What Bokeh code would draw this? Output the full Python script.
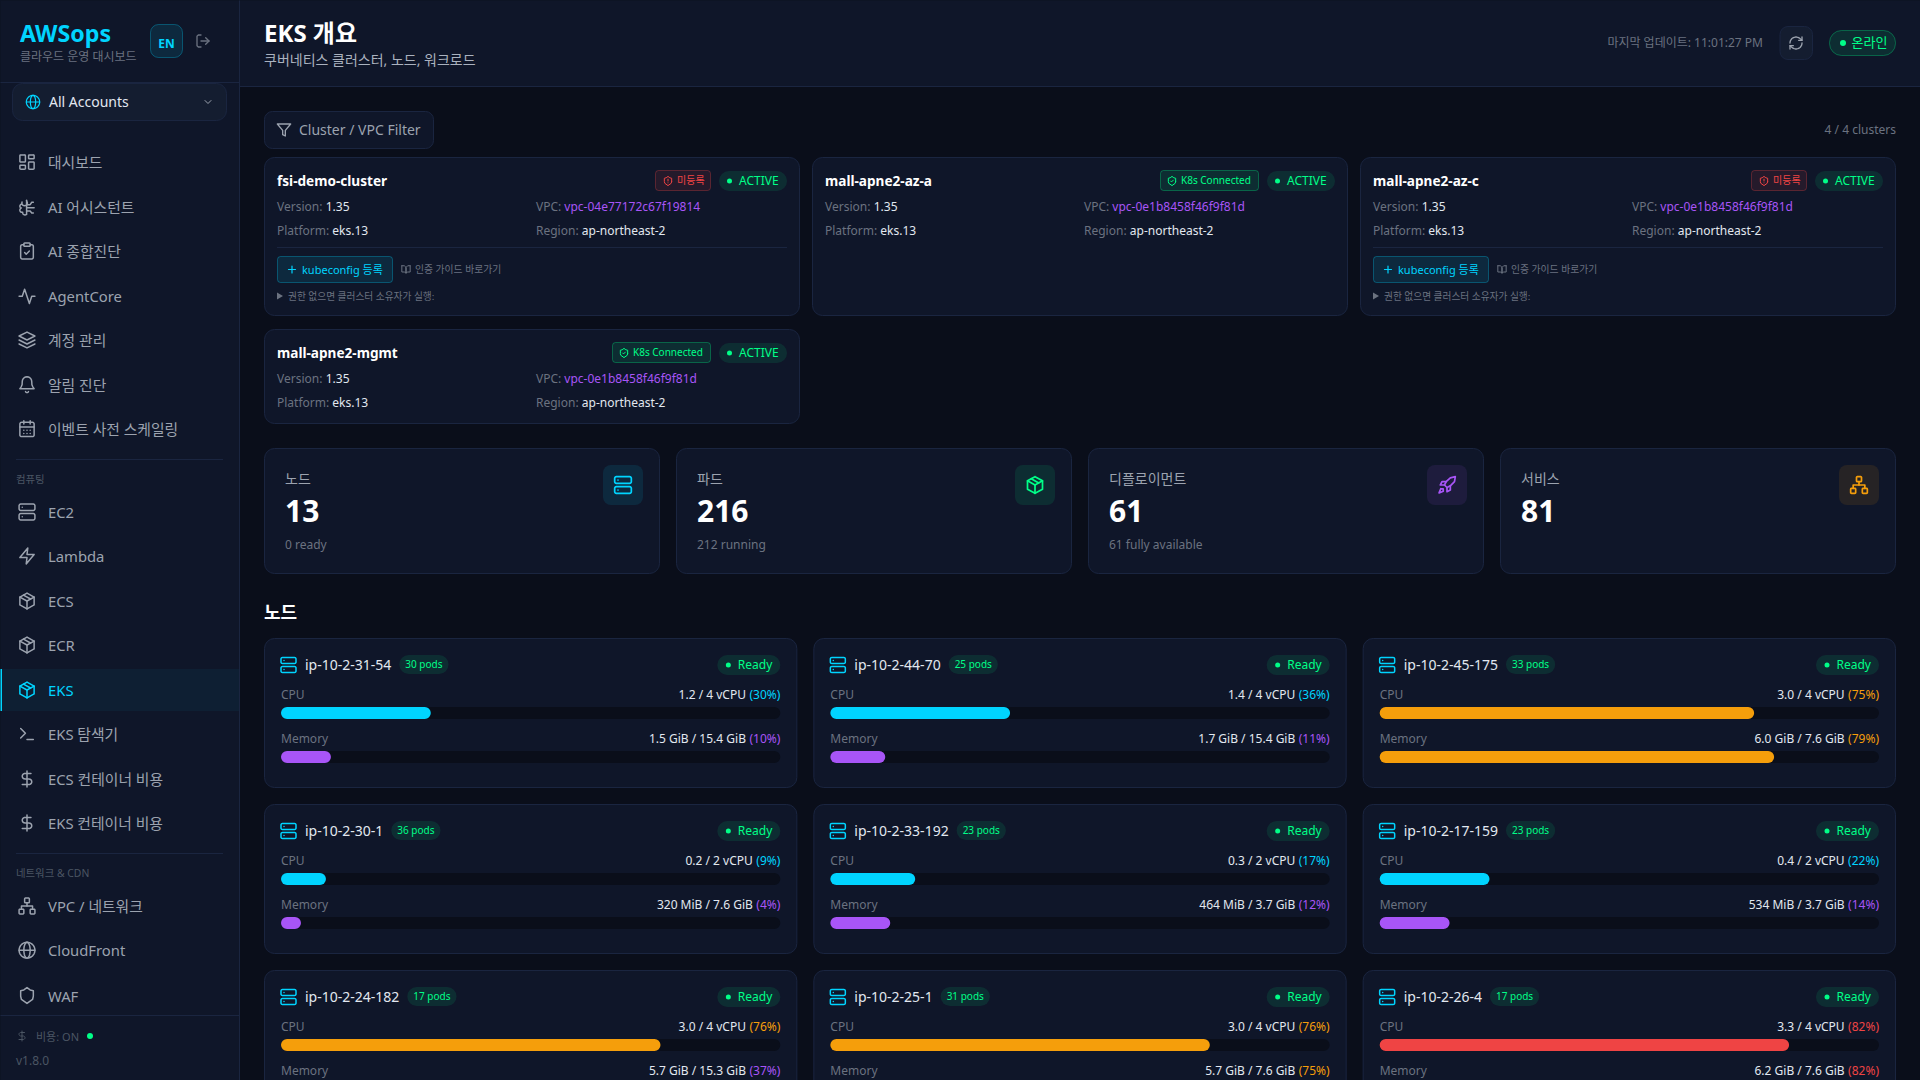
import math
from collections import defaultdict
from bokeh.core.properties import value
from bokeh.plotting import figure
from bokeh.models import Range1d, ColumnDataSource
from bokeh.embed import file_html
from bokeh.resources import INLINE

# ---------- data ----------
cluster_names = ["fsi-demo-cluster", "mall-apne2-az-a", "mall-apne2-az-c", "mall-apne2-mgmt"]
cluster_vpcs = ["vpc-04e77172c67f19814", "vpc-0e1b8458f46f9f81d", "vpc-0e1b8458f46f9f81d", "vpc-0e1b8458f46f9f81d"]
cluster_connected = [False, True, False, True]
stat_labels = ["노드", "파드", "디플로이먼트", "서비스"]
stat_values = ["13", "216", "61", "81"]
stat_subs = ["0 ready", "212 running", "61 fully available", ""]
node_names = ["ip-10-2-31-54", "ip-10-2-44-70", "ip-10-2-45-175", "ip-10-2-30-1", "ip-10-2-33-192",
              "ip-10-2-17-159", "ip-10-2-24-182", "ip-10-2-25-1", "ip-10-2-26-4"]
node_pods = [30, 25, 33, 36, 23, 23, 17, 31, 17]
cpu_text = ["1.2 / 4 vCPU", "1.4 / 4 vCPU", "3.0 / 4 vCPU", "0.2 / 2 vCPU", "0.3 / 2 vCPU",
            "0.4 / 2 vCPU", "3.0 / 4 vCPU", "3.0 / 4 vCPU", "3.3 / 4 vCPU"]
cpu_pct = [30, 36, 75, 9, 17, 22, 76, 76, 82]
mem_text = ["1.5 GiB / 15.4 GiB", "1.7 GiB / 15.4 GiB", "6.0 GiB / 7.6 GiB", "320 MiB / 7.6 GiB", "464 MiB / 3.7 GiB",
            "534 MiB / 3.7 GiB", "5.7 GiB / 15.3 GiB", "5.7 GiB / 7.6 GiB", "6.2 GiB / 7.6 GiB"]
mem_pct = [10, 11, 79, 4, 12, 14, 37, 75, 82]
nav_labels = ["대시보드", "AI 어시스턴트", "AI 종합진단", "AgentCore", "계정 관리", "알림 진단", "이벤트 사전 스케일링",
              "EC2", "Lambda", "ECS", "ECR", "EKS", "EKS 탐색기", "ECS 컨테이너 비용", "EKS 컨테이너 비용",
              "VPC / 네트워크", "CloudFront", "WAF"]
nav_icons = ["dash", "brain", "clip", "activity", "layers", "bell", "cal",
             "server", "zap", "box", "box", "box", "term", "dollar", "dollar",
             "net", "globe", "shield"]

# ---------- palette ----------
BG = "#0a0e1a"; CARD = "#0f1629"; BORDER = "#1a2540"; FIELD = "#141d30"
CYAN = "#00d4ff"; GREEN = "#00ff88"; PURPLE = "#a855f7"; ORANGE = "#f59e0b"; RED = "#ef4444"
TXT = "#e2e8f0"; NAV = "#9ca3af"; MUTED = "#6b7280"; DIM = "#4b5563"; WHITE = "#ffffff"
FONT = "Noto Sans, Noto Sans CJK KR"

p = figure(width=1920, height=1080, x_range=Range1d(0.5, 1920.5), y_range=Range1d(1080.5, 0.5),
           output_backend="svg", toolbar_location=None, min_border=0,
           background_fill_color=BG, border_fill_color=BG, outline_line_color=None,
           x_axis_type=None, y_axis_type=None,
           styles={"position": "fixed", "left": "0", "top": "0", "background-color": CARD})
p.grid.visible = False

# ---------- helpers ----------
def box(l, t, r, b, fill=None, line=None, rad=0, fa=1.0, la=1.0, lw=1):
    p.quad(left=[l], right=[r], top=[t], bottom=[b], border_radius=int(round(rad)),
           fill_color=fill, fill_alpha=fa if fill else 0,
           line_color=line, line_alpha=la if line else 0, line_width=lw)

texts = defaultdict(lambda: ([], [], []))
def T(x, y, s, size=12, color=TXT, bold=False, align="left"):
    k = (size, color, bold, align)
    texts[k][0].append(x); texts[k][1].append(y); texts[k][2].append(s)

W = {'0':.572,'1':.572,'2':.572,'3':.572,'4':.572,'5':.572,'6':.572,'7':.572,'8':.572,'9':.572,' ':.26,'.':.268,
     '/':.372,'(':.3,')':.3,'%':.831,'-':.322,':':.268,'G':.728,'B':.65,'M':.907,'V':.6,'P':.603,'C':.632,'U':.73,
     'R':.627,'a':.561,'b':.615,'c':.48,'d':.615,'e':.564,'f':.344,'g':.615,'i':.258,'k':.534,'l':.258,'m':.935,
     'n':.618,'o':.605,'p':.615,'r':.408,'s':.479,'t':.361,'v':.508,'h':.618}
def tw(s, size):
    return sum(W.get(c, .57) for c in s) * size

lines = defaultdict(lambda: ([], []))
def arc(cx, cy, r, a0, a1, n=10, ry=None):
    ry = r if ry is None else ry
    return [(cx + r*math.cos(math.radians(a0+(a1-a0)*i/n)), cy + ry*math.sin(math.radians(a0+(a1-a0)*i/n))) for i in range(n+1)]
def rrect(x, y, w, h, r):
    return (arc(x+w-r, y+r, r, -90, 0, 4) + arc(x+w-r, y+h-r, r, 0, 90, 4) +
            arc(x+r, y+h-r, r, 90, 180, 4) + arc(x+r, y+r, r, 180, 270, 4) + [(x+w-r, y)])

ICONS = {
 "dash": [rrect(3,3,7,9,1), rrect(14,3,7,5,1), rrect(14,12,7,9,1), rrect(3,16,7,5,1)],
 "brain": [arc(9,7,3.5,-20,200)+arc(5.5,11,2.5,-90,-250)+arc(6,16,3,-110,-240)+arc(9.5,19,3,190,70),
           [(11.5,3.5),(11.5,21.5)], [(11.5,9),(16,9),(18,6),(20,6)], [(11.5,13),(21,13)], [(11.5,17),(16,17),(18,19.5),(20,19.5)]],
 "clip": [rrect(8,2,8,4,1), [(16,4),(18,4)]+arc(18,6,2,-90,0,3)+[(20,20)]+arc(18,20,2,0,90,3)+[(6,22)]+arc(6,20,2,90,180,3)+[(4,6)]+arc(6,6,2,180,270,3)+[(8,4)],
          [(9,14),(11,16),(15,12)]],
 "activity": [[(22,12),(18,12),(15,21),(9,3),(6,12),(2,12)]],
 "layers": [[(12,2),(2,7),(12,12),(22,7),(12,2)], [(2,12),(12,17),(22,12)], [(2,17),(12,22),(22,17)]],
 "bell": [arc(12,8,6,180,360)+[(18.2,12),(19.5,15),(21,17),(3,17),(4.5,15),(5.8,12),(6,8)], arc(12,20,2,160,20,6)],
 "cal": [rrect(3,4,18,18,2), [(8,2),(8,6)], [(16,2),(16,6)], [(3,10),(21,10)],
         [(8,14),(8.01,14)], [(12,14),(12.01,14)], [(16,14),(16.01,14)], [(8,18),(8.01,18)], [(12,18),(12.01,18)], [(16,18),(16.01,18)]],
 "server": [rrect(2,2,20,8,2), rrect(2,14,20,8,2), [(6,6),(6.01,6)], [(6,18),(6.01,18)]],
 "zap": [[(13,2),(3,14),(12,14),(11,22),(21,10),(12,10),(13,2)]],
 "box": [[(12,2),(21,7),(21,17),(12,22),(3,17),(3,7),(12,2)], [(3,7),(12,12),(21,7)], [(12,22),(12,12)], [(7.5,4.5),(16.5,9.5)]],
 "term": [[(4,17),(10,11),(4,5)], [(12,19),(20,19)]],
 "dollar": [[(12,2),(12,22)], [(17,5),(9.5,5)]+arc(9.5,8.5,3.5,-90,-270)+[(14.5,12)]+arc(14.5,15.5,3.5,-90,90)+[(6,19)]],
 "net": [rrect(16,16,6,6,1), rrect(2,16,6,6,1), rrect(9,2,6,6,1), [(5,16),(5,12),(19,12),(19,16)], [(12,12),(12,8)]],
 "globe": [arc(12,12,10,0,360,32), [(2,12),(22,12)], arc(12,12,4,0,360,24,ry=10)],
 "shield": [[(20,13),(19,17),(12,22),(5,17),(4,13),(4,6),(8,5),(12,2),(16,5),(20,6),(20,13)]],
 "shield_ok": [[(20,13),(19,17),(12,22),(5,17),(4,13),(4,6),(8,5),(12,2),(16,5),(20,6),(20,13)], [(9,12),(11,14),(15,10)]],
 "shield_no": [[(20,13),(19,17),(12,22),(5,17),(4,13),(4,6),(8,5),(12,2),(16,5),(20,6),(20,13)], [(12,8),(12,12)], [(12,16),(12.01,16)]],
 "rocket": [[(4.5,16.5),(2.5,21.5),(7.5,19.5),(7.4,16.6),(4.5,16.5)],
            [(12,15),(9,12),(11,8),(16,3.5),(22,2),(21,8),(16,13),(12,15)],
            [(9,12),(4,12),(6,8),(11,8)], [(12,15),(12,20),(16,18),(16,13)]],
 "filter": [[(22,3),(2,3),(10,12.5),(10,19),(14,21),(14,12.5),(22,3)]],
 "refresh": [arc(12,12,9,180,300)+[(21,8)], [(21,3),(21,8),(16,8)], arc(12,12,9,0,120)+[(3,16)], [(8,16),(3,16),(3,21)]],
 "logout": [[(9,21),(5,21),(3,19),(3,5),(5,3),(9,3)], [(16,17),(21,12),(16,7)], [(21,12),(9,12)]],
 "book": [[(2,3),(8,3),(12,7),(12,21),(9,18),(2,18),(2,3)], [(22,3),(16,3),(12,7),(12,21),(15,18),(22,18),(22,3)]],
 "chev": [[(6,9),(12,15),(18,9)]],
 "plus": [[(5,12),(19,12)], [(12,5),(12,19)]],
}
def icon(kind, cx, cy, size, color, lw=None):
    s = size/24.0
    lw = lw or round(max(1.0, 2*s), 2)
    for st in ICONS[kind]:
        k = (color, lw)
        lines[k][0].append([cx + (x-12)*s for x, y in st])
        lines[k][1].append([cy + (y-12)*s for x, y in st])

dots = defaultdict(lambda: ([], [], []))
def dot(x, y, r, color):
    dots[color][0].append(x); dots[color][1].append(y); dots[color][2].append(r)

def pill(l, t, r, b, color, line=False, rad=None):
    rad = (b-t)/2 if rad is None else rad
    box(l, t, r, b, fill=color, fa=.1, line=color if line else None, la=.3, rad=rad)

# ---------- sidebar ----------
box(0, 0, 240, 1081, fill=CARD)
box(239, 0, 240, 1081, fill=BORDER)
box(0, 82, 240, 83, fill=BORDER)
T(20, 33, "AWSops", 23.2, CYAN, True)
T(20, 56.5, "클라우드 운영 대시보드", 12, MUTED)
pill(150.5, 24.5, 182.5, 57.5, CYAN, True, 8)
T(166.5, 43, "EN", 12, CYAN, True, "center")
icon("logout", 203, 41, 16, "#6b7280")
box(12.5, 83.5, 226.5, 120.5, fill=FIELD, line=BORDER, rad=10)
icon("globe", 33, 102, 16, CYAN, 1.2)
T(49, 101.3, "All Accounts", 14, TXT)
icon("chev", 208, 102, 12, NAV)

nav_y = [162, 207, 251, 296.3, 340, 384.7, 428.7, 512, 556, 601, 645, 690, 734, 779, 823, 906, 950.2, 995.5]
box(0, 669, 239, 711, fill=CYAN, fa=.05)
box(0, 669, 2, 711, fill=CYAN)
for label, ic, y in zip(nav_labels, nav_icons, nav_y):
    c = CYAN if label == "EKS" else NAV
    icon(ic, 27, y, 19, c, 1.5)
    T(48, y, label, 14.8, c)
box(16, 459, 223, 460, fill=BORDER)
box(16, 853, 223, 854, fill=BORDER)
T(16, 479, "컴퓨팅", 10.4, DIM)
T(16, 873, "네트워크 & CDN", 10.4, DIM)
box(0, 1015, 239, 1016, fill=BORDER)
icon("dollar", 22, 1036, 12, DIM)
T(36, 1036, "비용: ON", 11, DIM)
dot(90, 1036, 3, GREEN)
T(16, 1060, "v1.8.0", 12, DIM)

# ---------- header ----------
box(240, 0, 1921, 86, fill=CARD)
box(240, 86, 1921, 87, fill=BORDER)
T(264, 32, "EKS 개요", 24, WHITE, True)
T(264, 59.2, "쿠버네티스 클러스터, 노드, 워크로드", 14, "#aab2bf")
T(1763, 42, "마지막 업데이트: 11:01:27 PM", 12, MUTED, False, "right")
box(1780, 26.5, 1812.5, 59.5, fill=FIELD, line=BORDER, rad=8)
icon("refresh", 1796, 43, 16, NAV)
pill(1829.5, 30.5, 1895.5, 55.5, GREEN, True)
dot(1843, 43, 3, GREEN)
T(1851.5, 42, "온라인", 13, GREEN)

# ---------- filter ----------
box(264.5, 111.5, 433.5, 148.5, fill=CARD, line=BORDER, rad=8)
icon("filter", 284, 130, 16, NAV)
T(299, 129.5, "Cluster / VPC Filter", 14, NAV)
T(1896, 129.5, "4 / 4 clusters", 12, MUTED, False, "right")

# ---------- cluster cards ----------
CW = 536; CGAP = 12
card_pos = [(264, 157, 316), (264+CW+CGAP, 157, 316), (264+2*(CW+CGAP), 157, 316), (264, 329, 424)]
for name, vpc, ok, (x, top, bot) in zip(cluster_names, cluster_vpcs, cluster_connected, card_pos):
    box(x+.5, top+.5, x+CW-.5, bot-.5, fill=CARD, line=BORDER, rad=10)
    L = x+13; R = x+CW-13
    T(L, top+23.2, name, 13.6, WHITE, True)
    pill(R-68, top+14, R, top+34, GREEN)
    dot(R-57.5, top+24, 2.5, GREEN)
    T(R-48, top+23.3, "ACTIVE", 12, GREEN)
    if ok:
        box(R-174.5, top+13.5, R-76.5, top+33.5, fill=GREEN, fa=.1, line=GREEN, la=.3, rad=3)
        icon("shield_ok", R-163, top+24, 11, GREEN, 1)
        T(R-154, top+23.3, "K8s Connected", 10, GREEN)
    else:
        box(R-131.5, top+13.5, R-76.5, top+33.5, fill=RED, fa=.1, line=RED, la=.3, rad=3)
        icon("shield_no", R-119, top+24, 11, RED, 1)
        T(R-110, top+23.3, "미등록", 10, RED)
    for lab, val, yy in (("Version: ", "1.35", top+49.5), ("Platform: ", "eks.13", top+73.5)):
        T(L, yy, lab, 12, MUTED)
        T(L+tw(lab, 12), yy, val, 12, TXT)
    V = L+259
    lab = "VPC: "
    T(V, top+49.5, lab, 12, MUTED)
    T(V+tw(lab, 12), top+49.5, vpc, 12, PURPLE)
    lab = "Region: "
    T(V, top+73.5, lab, 12, MUTED)
    T(V+tw(lab, 12), top+73.5, "ap-northeast-2", 12, TXT)
    if not ok:
        box(L, top+90, R, top+91, fill=BORDER)
        box(L+.5, top+99.5, L+115.5, top+125.5, fill=CYAN, fa=.1, line=CYAN, la=.3, rad=3)
        icon("plus", L+15, top+112.5, 12, CYAN, 1.2)
        T(L+25, top+112, "kubeconfig 등록", 11, CYAN)
        icon("book", L+129, top+112.5, 10, MUTED, 1)
        T(L+138, top+112, "인증 가이드 바로가기", 9.8, MUTED)
        p.patch([L, L+6, L], [top+135.5, top+139, top+142.5], fill_color=MUTED, line_color=None)
        T(L+11, top+139, "권한 없으면 클러스터 소유자가 실행:", 9.7, MUTED)

# ---------- stats ----------
SW = 396; SGAP = 16
stat_colors = [CYAN, GREEN, PURPLE, ORANGE]
stat_icons = ["server", "box", "rocket", "net"]
for i, (lab, val, sub, col, ic) in enumerate(zip(stat_labels, stat_values, stat_subs, stat_colors, stat_icons)):
    x = 264 + i*(SW+SGAP)
    box(x+.5, 448.5, x+SW-.5, 573.5, fill=CARD, line=BORDER, rad=10)
    box(x+SW-57, 465, x+SW-17, 505, fill=col, fa=.1, rad=8)
    icon(ic, x+SW-37, 485, 20, col, 1.7)
    T(x+21, 478.5, lab, 14, NAV)
    T(x+21, 511, val, 30, WHITE, True)
    if sub:
        T(x+21, 544.3, sub, 12, MUTED)

# ---------- nodes ----------
T(264, 611.5, "노드", 18, WHITE, True)
NW = 1600/3; NGAP = 16; NP = 166
def level(pct, base):
    if pct >= 80:
        return RED
    if pct >= 60:
        return ORANGE
    return base
for i, name in enumerate(node_names):
    x = 264 + (i % 3)*(NW+NGAP); top = 638 + (i//3)*NP
    box(x+.5, top+.5, x+NW-.5, top+149.5, fill=CARD, line=BORDER, rad=10)
    L = x+17; R = x+NW-17
    icon("server", L+7.5, top+27, 18, CYAN, 1.5)
    T(L+24, top+26.5, name, 14, TXT)
    px = L+24+tw(name, 14)+8
    pods = f"{node_pods[i]} pods"
    pw = tw(pods, 10)+12
    pill(px, top+17, px+pw, top+36, GREEN)
    T(px+6, top+26, pods, 10, GREEN)
    pill(R-63, top+17, R, top+37, GREEN)
    dot(R-52, top+27, 2.5, GREEN)
    T(R-42.5, top+26.5, "Ready", 12, GREEN)
    for off_l, off_t, lab, txt, pct, base in ((56, 69, "CPU", cpu_text[i], cpu_pct[i], CYAN),
                                              (100.5, 113, "Memory", mem_text[i], mem_pct[i], PURPLE)):
        T(L, top+off_l, lab, 12, MUTED)
        ps = f"({pct}%)"
        c = level(pct, base)
        T(R, top+off_l, ps, 12, c, False, "right")
        T(R-tw(ps, 12)-3.5, top+off_l, txt, 12, TXT, False, "right")
        box(L, top+off_t, R, top+off_t+12, fill=BG, rad=6)
        box(L, top+off_t, L+(R-L)*pct/100, top+off_t+12, fill=c, rad=6)

# ---------- flush batches ----------
for (color, lw), (xs, ys) in lines.items():
    p.multi_line(xs, ys, line_color=color, line_width=lw, line_join="round", line_cap="round")
for color, (xs, ys, rs) in dots.items():
    p.circle(x=xs, y=ys, radius=rs, fill_color=color, line_color=None)
for (size, color, bold, align), (xs, ys, ss) in texts.items():
    src = ColumnDataSource(dict(x=xs, y=ys, text=ss))
    p.text(x="x", y="y", text="text", source=src, text_font=value(FONT), text_font_size=f"{size}px",
           text_color=color, text_align=align, text_baseline="middle",
           text_font_style="bold" if bold else "normal")

open("out.html", "w").write(file_html(p, INLINE))
